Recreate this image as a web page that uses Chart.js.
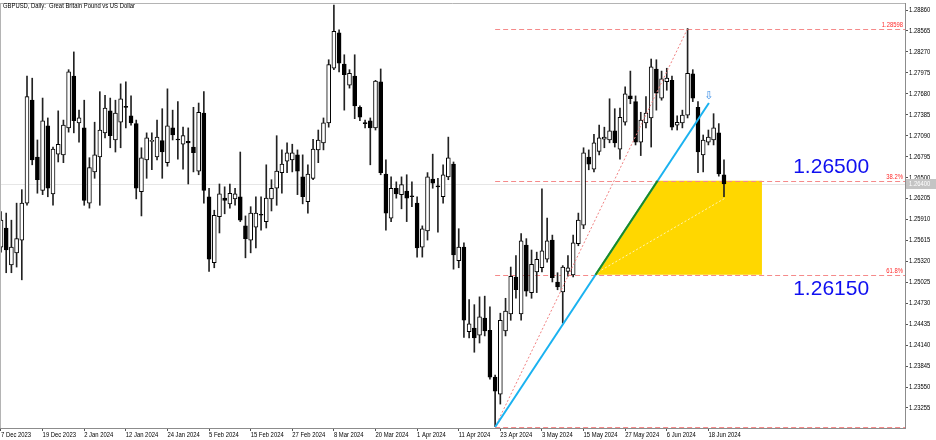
<!DOCTYPE html>
<html>
<head>
<meta charset="utf-8">
<script src="https://cdn.jsdelivr.net/npm/chart.js@4.4.1/dist/chart.umd.min.js"></script>
<style>
  html, body { margin: 0; padding: 0; background: #fff; }
  #wrap { width: 936px; height: 440px; position: relative; }
</style>
</head>
<body>
<div id="wrap"><canvas id="chart"></canvas></div>
<script>
// GBPUSD daily, 7 Dec 2023 .. 21 Jun 2024
const opens = [
  1.2552,1.2579,1.2527,1.2544,1.2562,1.2614,1.2759,1.2679,1.2632,1.2723,
  1.2627,1.2683,1.2682,1.2720,1.2793,1.2727,1.2720,1.2614,1.2658,1.2679,
  1.2713,1.2744,1.2703,1.2728,1.2750,1.2737,1.2726,1.2630,1.2675,1.2701,
  1.2679,1.2702,1.2671,1.2720,1.2704,1.2697,1.2701,1.2693,1.2659,1.2741,
  1.2623,1.2530,1.2595,1.2621,1.2613,1.2620,1.2623,1.2582,1.2562,1.2580,
  1.2598,1.2588,1.2620,1.2635,1.2657,1.2673,1.2675,1.2682,1.2651,1.2616,
  1.2649,1.2689,1.2699,1.2727,1.2804,1.2854,1.2810,1.2780,1.2793,1.2749,
  1.2727,1.2730,1.2720,1.2785,1.2655,1.2593,1.2635,1.2626,1.2631,1.2624,
  1.2614,1.2552,1.2575,1.2648,1.2638,1.2623,1.2651,1.2669,1.2533,1.2552,
  1.2433,1.2438,1.2428,1.2452,1.2435,1.2369,1.2345,1.2434,1.2458,1.2510,
  1.2458,1.2555,1.2488,1.2517,1.2523,1.2535,1.2562,1.2503,1.2489,1.2518,
  1.2513,1.2557,1.2583,1.2679,1.2662,1.2687,1.2704,1.2703,1.2716,1.2690,
  1.2728,1.2765,1.2757,1.2700,1.2727,1.2734,1.2803,1.2762,1.2785,1.2787,
  1.2724,1.2727,1.2738,1.2796,1.2749,1.2682,1.2700,1.2703,1.2713,1.2654
]
const highs = [
  1.2602,1.2600,1.2590,1.2614,1.2633,1.2793,1.2790,1.2703,1.2762,1.2734,
  1.2693,1.2744,1.2731,1.2802,1.2827,1.2745,1.2759,1.2678,1.2728,1.2771,
  1.2766,1.2762,1.2759,1.2782,1.2785,1.2765,1.2731,1.2692,1.2713,1.2713,
  1.2731,1.2747,1.2775,1.2745,1.2757,1.2721,1.2720,1.2749,1.2755,1.2771,
  1.2635,1.2604,1.2641,1.2637,1.2641,1.2635,1.2686,1.2596,1.2609,1.2623,
  1.2623,1.2668,1.2647,1.2709,1.2689,1.2699,1.2697,1.2689,1.2682,1.2668,
  1.2704,1.2717,1.2734,1.2816,1.2893,1.2858,1.2823,1.2802,1.2823,1.2751,
  1.2731,1.2734,1.2787,1.2803,1.2675,1.2651,1.2644,1.2651,1.2654,1.2644,
  1.2623,1.2582,1.2657,1.2683,1.2649,1.2668,1.2707,1.2672,1.2578,1.2558,
  1.2478,1.2471,1.2482,1.2483,1.2468,1.2372,1.2459,1.2480,1.2524,1.2540,
  1.2571,1.2564,1.2548,1.2545,1.2634,1.2593,1.2569,1.2516,1.2526,1.2540,
  1.2569,1.2600,1.2692,1.2689,1.2711,1.2724,1.2721,1.2761,1.2747,1.2748,
  1.2778,1.2800,1.2765,1.2742,1.2764,1.2817,1.2816,1.2800,1.2804,1.2793,
  1.2737,1.2745,1.2860,1.2802,1.2757,1.2710,1.2717,1.2740,1.2726,1.2675
]
const lows = [
  1.2545,1.2516,1.2516,1.2524,1.2506,1.2611,1.2668,1.2628,1.2626,1.2623,
  1.2611,1.2672,1.2671,1.2714,1.2713,1.2700,1.2611,1.2607,1.2649,1.2611,
  1.2706,1.2692,1.2686,1.2692,1.2720,1.2724,1.2620,1.2596,1.2649,1.2661,
  1.2675,1.2649,1.2666,1.2703,1.2676,1.2662,1.2641,1.2658,1.2654,1.2614,
  1.2518,1.2523,1.2572,1.2599,1.2607,1.2611,1.2588,1.2537,1.2544,1.2551,
  1.2576,1.2579,1.2603,1.2611,1.2628,1.2657,1.2658,1.2626,1.2613,1.2600,
  1.2647,1.2671,1.2689,1.2721,1.2802,1.2799,1.2745,1.2776,1.2733,1.2730,
  1.2720,1.2668,1.2717,1.2654,1.2576,1.2588,1.2621,1.2606,1.2588,1.2609,
  1.2538,1.2538,1.2562,1.2635,1.2573,1.2614,1.2647,1.2521,1.2523,1.2425,
  1.2424,1.2404,1.2417,1.2427,1.2366,1.2299,1.2331,1.2427,1.2449,1.2480,
  1.2449,1.2483,1.2480,1.2488,1.2517,1.2531,1.2503,1.2492,1.2445,1.2511,
  1.2510,1.2554,1.2578,1.2661,1.2658,1.2682,1.2692,1.2699,1.2693,1.2676,
  1.2724,1.2754,1.2696,1.2681,1.2720,1.2693,1.2745,1.2759,1.2773,1.2717,
  1.2717,1.2720,1.2734,1.2757,1.2657,1.2658,1.2696,1.2696,1.2652,1.2623
]
const closes = [
  1.2590,1.2548,1.2552,1.2564,1.2614,1.2764,1.2675,1.2647,1.2730,1.2635,
  1.2690,1.2697,1.2724,1.2799,1.2730,1.2734,1.2618,1.2664,1.2682,1.2717,
  1.2748,1.2709,1.2741,1.2761,1.2749,1.2727,1.2635,1.2678,1.2706,1.2702,
  1.2707,1.2686,1.2723,1.2710,1.2703,1.2709,1.2699,1.2685,1.2742,1.2632,
  1.2535,1.2597,1.2627,1.2618,1.2628,1.2627,1.2590,1.2564,1.2600,1.2600,
  1.2597,1.2621,1.2635,1.2659,1.2669,1.2685,1.2685,1.2659,1.2623,1.2655,
  1.2690,1.2703,1.2727,1.2809,1.2856,1.2811,1.2795,1.2797,1.2751,1.2735,
  1.2726,1.2720,1.2786,1.2657,1.2600,1.2635,1.2627,1.2640,1.2621,1.2623,
  1.2551,1.2578,1.2651,1.2642,1.2637,1.2654,1.2678,1.2541,1.2552,1.2449,
  1.2444,1.2424,1.2454,1.2434,1.2369,1.2349,1.2449,1.2462,1.2511,1.2492,
  1.2561,1.2490,1.2528,1.2535,1.2547,1.2561,1.2509,1.2496,1.2524,1.2523,
  1.2558,1.2590,1.2685,1.2669,1.2699,1.2706,1.2707,1.2716,1.2699,1.2735,
  1.2768,1.2761,1.2700,1.2731,1.2741,1.2806,1.2769,1.2789,1.2790,1.2721,
  1.2728,1.2738,1.2797,1.2762,1.2686,1.2703,1.2707,1.2720,1.2655,1.2641
]

// date ticks (bar index -> label)
const tickBars = [0, 8, 16, 24, 32, 40, 48, 56, 64, 72, 80, 88, 96, 104, 112, 120, 128, 136]
const tickLabels = ['7 Dec 2023', '19 Dec 2023', '2 Jan 2024', '12 Jan 2024', '24 Jan 2024', '5 Feb 2024',
  '15 Feb 2024', '27 Feb 2024', '8 Mar 2024', '20 Mar 2024', '1 Apr 2024', '11 Apr 2024', '23 Apr 2024',
  '3 May 2024', '15 May 2024', '27 May 2024', '6 Jun 2024', '18 Jun 2024']
const priceTicks = [1.23255, 1.23550, 1.23845, 1.24140, 1.24435, 1.24730, 1.25025, 1.25320, 1.25615, 1.25910,
  1.26205, 1.26500, 1.26795, 1.27090, 1.27385, 1.27680, 1.27975, 1.28270, 1.28565, 1.28860]

// fibonacci retracement and drawn objects
const fibFrom = 95, fibTo = 132
const fibLow = 1.22988, fibHigh = 1.28598
const fibLevels = [0, 0.382, 0.618, 1]
const fibTexts = ['1.28598', '38.2%', '61.8%', '']
const trendA = [95, 1.22988], trendB = [136.1, 1.2755]
const zoneEnd = 146.3
const faintA = [114.8, 1.2517], faintB = [139.2, 1.2621]
const arrowAt = [136.1, 1.2765]
const bigTexts = ['1.26500', '1.26150']
const bigTextAt = [[159.6, 1.2665], [159.6, 1.2493]]
const lastPriceText = '1.26400'
const title = 'GBPUSD, Daily:  Great Britain Pound vs US Dollar'

// small terminal-style text is drawn squeezed, the way the platform renders it
const SMALL = '7px "Liberation Sans", Arial, sans-serif'
const SQUEEZE = 0.84

const bodyData = opens.map((o, i) => ({ x: i, y: [o, closes[i]] }))
const wickData = lows.map((l, i) => ({ x: i, y: [l, highs[i]] }))
const bodyFill = opens.map((o, i) => closes[i] >= o ? '#ffffff' : '#000000')

function seg(ctx, x1, y1, x2, y2) {
  ctx.beginPath(); ctx.moveTo(x1, y1); ctx.lineTo(x2, y2); ctx.stroke()
}
function smallText(ctx, t, x, y, align) {
  ctx.save()
  ctx.font = SMALL
  ctx.textBaseline = 'middle'
  ctx.textAlign = align || 'left'
  ctx.translate(x, y)
  ctx.scale(SQUEEZE, 1)
  ctx.fillText(t, 0, 0)
  ctx.restore()
}

const overlay = {
  id: 'overlay',
  beforeDatasetsDraw(chart) {
    const { ctx, chartArea: a, scales: { x, y } } = chart
    const range = fibHigh - fibLow
    const trendX = p => trendA[0] + (p - trendA[1]) / (trendB[1] - trendA[1]) * (trendB[0] - trendA[0])
    ctx.save()
    ctx.beginPath(); ctx.rect(a.left, a.top, a.right - a.left, a.bottom - a.top); ctx.clip()

    // last price line
    const yc = Math.round(y.getPixelForValue(closes[closes.length - 1])) + 0.5
    ctx.strokeStyle = '#e6e6e6'; ctx.lineWidth = 1
    seg(ctx, a.left, yc, a.right, yc)

    // yellow zone between 38.2 and 61.8 right of the trend line
    const p382 = fibHigh - 0.382 * range, p618 = fibHigh - 0.618 * range
    ctx.fillStyle = '#ffd700'
    ctx.beginPath()
    ctx.moveTo(x.getPixelForValue(trendX(p618)), y.getPixelForValue(p618))
    ctx.lineTo(x.getPixelForValue(trendX(p382)), y.getPixelForValue(p382))
    ctx.lineTo(x.getPixelForValue(zoneEnd), y.getPixelForValue(p382))
    ctx.lineTo(x.getPixelForValue(zoneEnd), y.getPixelForValue(p618))
    ctx.closePath(); ctx.fill()

    // faint line in the zone
    ctx.strokeStyle = 'rgba(255,255,255,0.7)'; ctx.setLineDash([2, 2])
    seg(ctx, x.getPixelForValue(faintA[0]), y.getPixelForValue(faintA[1]),
      x.getPixelForValue(faintB[0]), y.getPixelForValue(faintB[1]))

    // fib levels
    ctx.strokeStyle = '#f58a8a'; ctx.setLineDash([5, 3])
    fibLevels.forEach(lv => {
      const py = Math.round(y.getPixelForValue(fibHigh - lv * range)) + 0.5
      seg(ctx, x.getPixelForValue(fibFrom), py, a.right, py)
    })
    ctx.restore()
  },
  afterDatasetsDraw(chart) {
    const { ctx, chartArea: a, scales: { x, y } } = chart
    const range = fibHigh - fibLow
    const trendX = p => trendA[0] + (p - trendA[1]) / (trendB[1] - trendA[1]) * (trendB[0] - trendA[0])
    ctx.save()
    ctx.beginPath(); ctx.rect(a.left, a.top, a.right - a.left, a.bottom - a.top); ctx.clip()

    // fib diagonal
    ctx.strokeStyle = '#f08080'; ctx.lineWidth = 1; ctx.setLineDash([2, 2])
    seg(ctx, x.getPixelForValue(fibFrom), y.getPixelForValue(fibLow), x.getPixelForValue(fibTo), y.getPixelForValue(fibHigh))
    ctx.setLineDash([])

    // trend line
    ctx.strokeStyle = '#1ab2f0'; ctx.lineWidth = 2
    seg(ctx, x.getPixelForValue(trendA[0]), y.getPixelForValue(trendA[1]), x.getPixelForValue(trendB[0]), y.getPixelForValue(trendB[1]))
    const p382 = fibHigh - 0.382 * range, p618 = fibHigh - 0.618 * range
    ctx.strokeStyle = '#1f8a1f'
    seg(ctx, x.getPixelForValue(trendX(p618)), y.getPixelForValue(p618), x.getPixelForValue(trendX(p382)), y.getPixelForValue(p382))

    // fib labels
    ctx.fillStyle = '#ff2a2a'
    fibLevels.forEach((lv, k) => {
      if (fibTexts[k]) smallText(ctx, fibTexts[k], a.right - 2, y.getPixelForValue(fibHigh - lv * range) - 4, 'right')
    })

    // arrow
    ctx.fillStyle = '#3a8ee6'; ctx.font = '11px "DejaVu Sans"'; ctx.textAlign = 'center'; ctx.textBaseline = 'middle'
    ctx.fillText('\u21e9', x.getPixelForValue(arrowAt[0]), y.getPixelForValue(arrowAt[1]))

    // big price texts
    ctx.fillStyle = '#1010f0'; ctx.font = '21px "Liberation Sans", Arial, sans-serif'
    bigTexts.forEach((t, k) => ctx.fillText(t, x.getPixelForValue(bigTextAt[k][0]), y.getPixelForValue(bigTextAt[k][1])))
    ctx.restore()

    ctx.save()
    // frame
    ctx.strokeStyle = '#b4b4b4'; ctx.lineWidth = 1
    seg(ctx, a.left + 0.5, a.top + 0.5, a.right, a.top + 0.5)
    seg(ctx, a.left + 0.5, a.top, a.left + 0.5, a.bottom)

    // title
    ctx.fillStyle = '#000'
    smallText(ctx, title, a.left + 3, a.top + 3)

    // axis labels
    tickBars.forEach((b, k) => smallText(ctx, tickLabels[k], x.getPixelForValue(b), a.bottom + 7))
    priceTicks.forEach(v => smallText(ctx, v.toFixed(5), a.right + 4, y.getPixelForValue(v)))

    // last price box
    const yc = Math.round(y.getPixelForValue(closes[closes.length - 1]))
    ctx.fillStyle = '#c4c4c4'
    ctx.fillRect(a.right + 1, yc - 5, 31, 10)
    ctx.fillStyle = '#fff'
    smallText(ctx, lastPriceText, a.right + 4, yc)
    ctx.restore()
  }
}

new Chart(document.getElementById('chart'), {
  type: 'bar',
  data: {
    datasets: [
      {
        label: 'body', data: bodyData, grouped: false, order: 1,
        backgroundColor: bodyFill, borderColor: '#000', borderWidth: 1,
        borderSkipped: false, barThickness: 4, minBarLength: 1
      },
      {
        label: 'wick', data: wickData, grouped: false, order: 2,
        backgroundColor: '#222', borderWidth: 0, barThickness: 1
      }
    ]
  },
  options: {
    responsive: true,
    maintainAspectRatio: false,
    animation: false,
    devicePixelRatio: 1,
    events: [],
    layout: { padding: { top: 3, left: 0, right: 0, bottom: 0 } },
    plugins: { legend: { display: false }, tooltip: { enabled: false } },
    scales: {
      x: {
        type: 'linear', min: -0.192, max: 173.8, offset: false,
        afterBuildTicks: s => { s.ticks = tickBars.map(v => ({ value: v })) },
        afterFit: s => { s.height = 12; s.paddingLeft = 0; s.paddingRight = 0 },
        ticks: { display: false },
        grid: { drawOnChartArea: false, offset: false, tickLength: 3, color: '#555' },
        border: { color: '#8c8c8c' }
      },
      y: {
        position: 'right', min: 1.22973, max: 1.28959,
        afterBuildTicks: s => { s.ticks = priceTicks.map(v => ({ value: v })) },
        afterFit: s => { s.width = 31; s.paddingTop = 0; s.paddingBottom = 0 },
        ticks: { display: false },
        grid: { drawOnChartArea: false, tickLength: 3, color: '#555' },
        border: { color: '#8c8c8c' }
      }
    }
  },
  plugins: [overlay]
})
</script>
</body>
</html>
